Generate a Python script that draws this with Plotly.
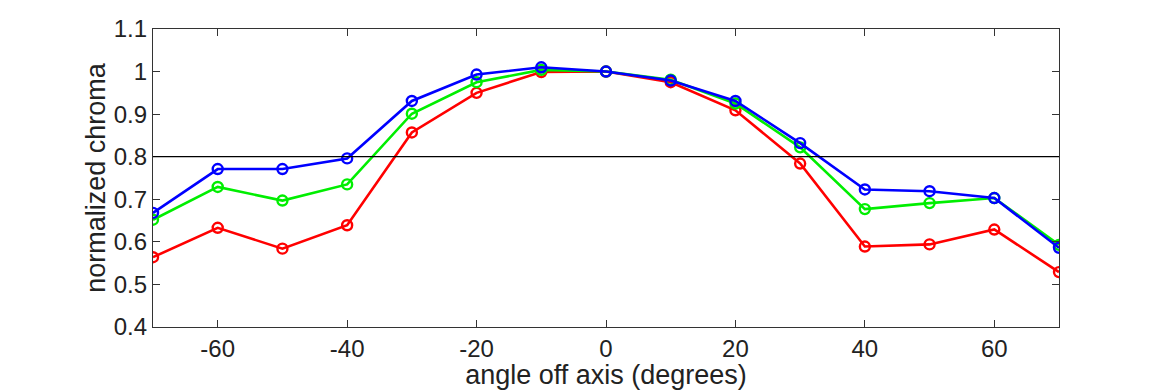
import plotly.graph_objects as go

angles = [-70, -60, -50, -40, -30, -20, -10, 0, 10, 20, 30, 40, 50, 60, 70]
red = [0.564, 0.633, 0.584, 0.639, 0.857, 0.950, 0.999, 1.0, 0.975, 0.909, 0.784, 0.589, 0.594, 0.629, 0.529]
green = [0.652, 0.729, 0.697, 0.735, 0.901, 0.975, 1.004, 1.0, 0.981, 0.925, 0.822, 0.677, 0.691, 0.703, 0.593]
blue = [0.668, 0.771, 0.771, 0.796, 0.931, 0.993, 1.010, 1.0, 0.979, 0.931, 0.832, 0.723, 0.719, 0.703, 0.586]
threshold = 0.8

y_ticks = [0.4, 0.5, 0.6, 0.7, 0.8, 0.9, 1.0, 1.1]
y_tick_labels = ["0.4", "0.5", "0.6", "0.7", "0.8", "0.9", "1", "1.1"]
x_ticks = [-60, -40, -20, 0, 20, 40, 60]
x_tick_labels = ["-60", "-40", "-20", "0", "20", "40", "60"]

fig = go.Figure()
fig.add_shape(type="line", xref="paper", yref="y", x0=0, x1=1, y0=threshold, y1=threshold,
              line=dict(color="black", width=1.3))
for vals, col in [(red, "#ff0000"), (green, "#00ee00"), (blue, "#0000ff")]:
    fig.add_trace(go.Scatter(x=angles, y=vals, mode="lines+markers",
                             line=dict(color=col, width=2.6),
                             marker=dict(symbol="circle-open", size=10, color=col, line=dict(width=2.4)),
                             showlegend=False))

fam = "Liberation Sans, Arial, sans-serif"
fig.update_layout(
    width=1170, height=390,
    margin=dict(l=153, r=111, t=29, b=63),
    paper_bgcolor="white", plot_bgcolor="white",
    font=dict(family=fam, color="#222222"),
)
fig.update_xaxes(range=[-70, 70], tickvals=x_ticks, ticktext=x_tick_labels, automargin=False,
                 ticks="inside", ticklen=7, tickcolor="#333", showgrid=False, zeroline=False,
                 showline=True, linecolor="#333", linewidth=1.2, mirror="ticks",
                 tickfont=dict(size=24, family=fam, color="#222"),
                 title=dict(text="angle off axis (degrees)", font=dict(size=27, family=fam, color="#222"), standoff=0))
fig.update_yaxes(range=[0.4, 1.1], tickvals=y_ticks, ticktext=y_tick_labels, automargin=False,
                 ticks="inside", ticklen=7, tickcolor="#333", showgrid=False, zeroline=False,
                 showline=True, linecolor="#333", linewidth=1.2, mirror="ticks",
                 tickfont=dict(size=24, family=fam, color="#222"),
                 title=dict(text="normalized chroma", font=dict(size=27, family=fam, color="#222"), standoff=0))

fig.write_html("out.html", config={"displayModeBar": False},
               post_script="document.body.style.margin='0';document.body.style.padding='0';")
